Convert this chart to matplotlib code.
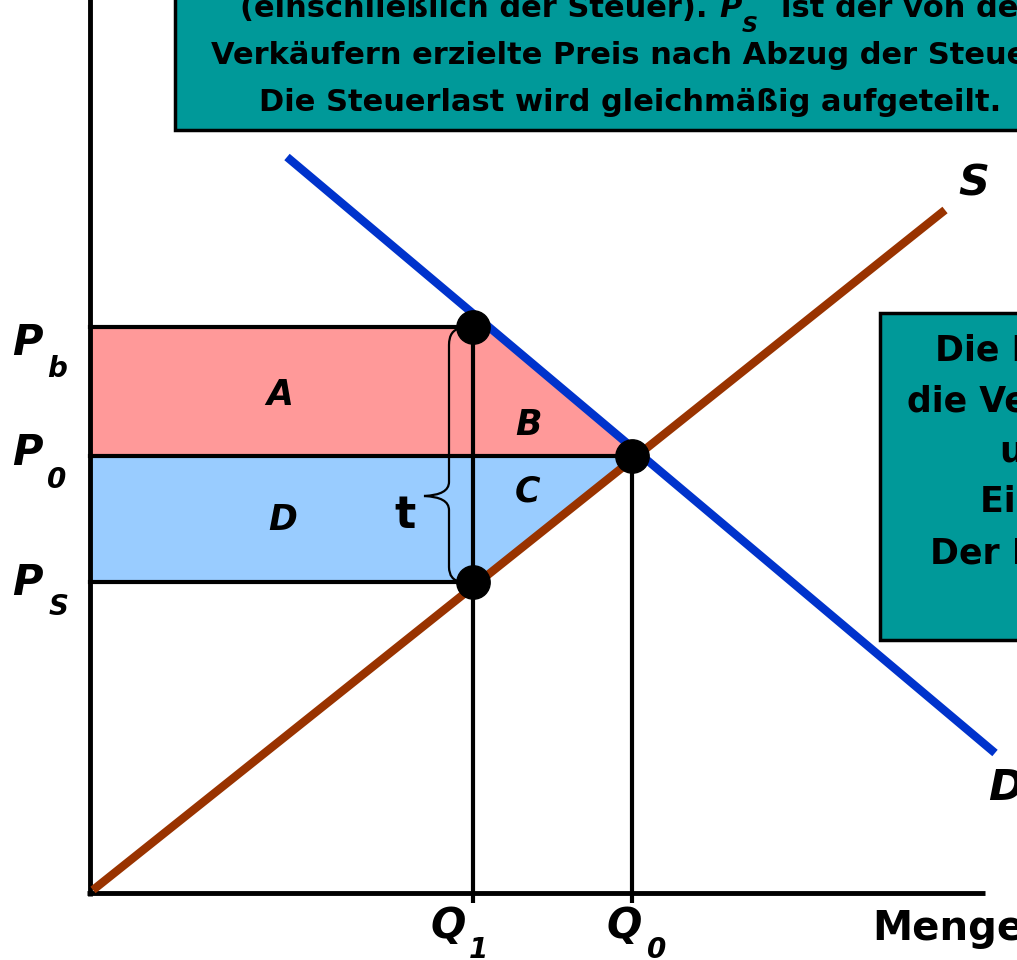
import matplotlib
matplotlib.use("Agg")
import numpy as np
import matplotlib.pyplot as plt
import matplotlib.patches as patches
from matplotlib.path import Path

plt.rcParams['font.family'] = ['DejaVu Sans']

# Werte aus dem Bild (Einheiten: Menge / Preis)
Q1 = 38.3
Q0 = 54.2
Pb = 56.6
P0 = 43.7
Ps = 31.1

supply_q = [0.3, 85.5]
supply_p = [0.3, 68.3]
demand_q = [19.7, 90.5]
demand_p = [73.6, 14.0]

top_lines = ["Verkäufern erzielte Preis nach Abzug der Steuer.",
             "Die Steuerlast wird gleichmäßig aufgeteilt."]
right_lines = ["Die Käufer verlieren A + B,",
               "die Verkäufer verlieren D + C",
               "und die Regierung",
               "Einnahmen von A + D.",
               "Der Nettowohlfahrts-"]

PINK = '#FF9999'
LIGHTBLUE = '#99CCFF'
TEAL = '#009999'
BROWN = '#993300'
BLUE = '#0033CC'


def demand_q_at(p):
    return np.interp(p, demand_p[::-1], demand_q[::-1])


def supply_q_at(p):
    return np.interp(p, supply_p, supply_q)


fig = plt.figure(figsize=(10.17, 9.6), dpi=100)
ax = fig.add_axes([0, 0, 1, 1])
ax.set_xlim(-9.0, 92.7)
ax.set_ylim(-6.7, 89.3)
ax.axis('off')

# Flaechen A+B und C+D
ax.fill([0, demand_q_at(Pb), demand_q_at(P0), 0], [Pb, Pb, P0, P0], color=PINK, lw=0, zorder=1)
ax.fill([0, supply_q_at(P0), supply_q_at(Ps), 0], [P0, P0, Ps, Ps], color=LIGHTBLUE, lw=0, zorder=1)

# Achsen
ax.plot([0, 0], [-0.3, 95], color='k', lw=3.5, solid_capstyle='butt', zorder=3)
ax.plot([-0.3, 89.5], [0, 0], color='k', lw=3.5, solid_capstyle='butt', zorder=3)

# Preislinien und Mengenlinien
ax.plot([0, Q1], [Pb, Pb], color='k', lw=3, zorder=2)
ax.plot([0, Q0], [P0, P0], color='k', lw=3, zorder=2)
ax.plot([0, Q1], [Ps, Ps], color='k', lw=3, zorder=2)
ax.plot([Q1, Q1], [Pb, -1.0], color='k', lw=3, solid_capstyle='butt', zorder=2)
ax.plot([Q0, Q0], [P0, -1.0], color='k', lw=3, solid_capstyle='butt', zorder=2)

# Angebot und Nachfrage
ax.plot(supply_q, supply_p, color=BROWN, lw=6, solid_capstyle='butt', zorder=4)
ax.plot(demand_q, demand_p, color=BLUE, lw=6, solid_capstyle='butt', zorder=4)

ax.plot([Q1, Q0, Q1], [Pb, P0, Ps], 'o', color='k', ms=24, zorder=5)

# geschweifte Klammer fuer t
bx, tip_x, tip_y = 35.9, 33.4, 39.7
verts = [(Q1 - 1.2, Pb - 0.1), (bx, Pb - 0.3), (bx, Pb - 1.8),
         (bx, tip_y + 1.4), (bx, tip_y + 0.1), (tip_x, tip_y),
         (bx, tip_y - 0.1), (bx, tip_y - 1.4),
         (bx, Ps + 1.5), (bx, Ps + 0.2), (Q1 - 1.2, Ps)]
codes = [Path.MOVETO, Path.CURVE3, Path.CURVE3,
         Path.LINETO, Path.CURVE3, Path.CURVE3,
         Path.CURVE3, Path.CURVE3,
         Path.LINETO, Path.CURVE3, Path.CURVE3]
ax.add_patch(patches.PathPatch(Path(verts, codes), fc='none', ec='k', lw=1.6, zorder=3))

big = dict(fontsize=30, fontweight='bold', fontstyle='italic', va='baseline', ha='left', zorder=6)
sub = dict(fontsize=20, fontweight='bold', fontstyle='italic', va='baseline', ha='left', zorder=6)

ax.text(-7.8, 53.8, 'P', **big)
ax.text(-4.3, 51.6, 'b', **sub)
ax.text(-7.8, 42.8, 'P', **big)
ax.text(-4.3, 40.5, '0', **sub)
ax.text(-7.8, 29.8, 'P', **big)
ax.text(-4.1, 27.8, 'S', **sub)

ax.text(34.0, -4.5, 'Q', **big)
ax.text(37.9, -6.5, '1', **sub)
ax.text(51.7, -4.5, 'Q', **big)
ax.text(55.7, -6.5, '0', **sub)
ax.text(78.2, -4.7, 'Menge', fontsize=29, fontweight='bold', va='baseline', ha='left')

ax.text(86.8, 69.8, 'S', fontsize=31, fontweight='bold', fontstyle='italic', va='baseline', ha='left')
ax.text(89.8, 9.3, 'D', fontsize=31, fontweight='bold', fontstyle='italic', va='baseline', ha='left')

area = dict(fontsize=25, fontweight='bold', fontstyle='italic', va='center', ha='center', zorder=6)
ax.text(19.0, 49.8, 'A', **area)
ax.text(43.9, 46.8, 'B', **area)
ax.text(43.7, 40.1, 'C', **area)
ax.text(19.3, 37.3, 'D', **area)
ax.text(31.5, 37.8, 't', fontsize=32, fontweight='bold', va='center', ha='center', zorder=6)

# Textkasten oben
ax.add_patch(patches.Rectangle((8.5, 76.3), 100, 20, fc=TEAL, ec='k', lw=2.5, zorder=7))
box = dict(fontsize=22, fontweight='bold', va='baseline', zorder=8)
ax.text(61.7, 87.6, '(einschließlich der Steuer).', ha='right', **box)
ax.text(62.9, 87.6, 'P', ha='left', fontsize=22, fontweight='bold', fontstyle='italic',
        va='baseline', zorder=8)
ax.text(65.2, 86.1, 'S', ha='left', fontsize=16, fontweight='bold', fontstyle='italic',
        va='baseline', zorder=8)
ax.text(69.1, 87.6, 'ist der von den Käufern', ha='left', **box)
ax.text(54.0, 82.9, top_lines[0], ha='center', **box)
ax.text(54.0, 78.2, top_lines[1], ha='center', **box)

# Textkasten rechts
ax.add_patch(patches.Rectangle((79.0, 25.3), 30, 32.7, fc=TEAL, ec='k', lw=2.5, zorder=7))
right_x = [84.5, 81.7, 91.0, 89.0, 84.0]
right_y = [53.2, 48.1, 43.1, 38.1, 33.0]
for s, x, y in zip(right_lines, right_x, right_y):
    ax.text(x, y, s, fontsize=25, fontweight='bold', ha='left', va='baseline', zorder=8)

fig.savefig('out.png', dpi=100)
